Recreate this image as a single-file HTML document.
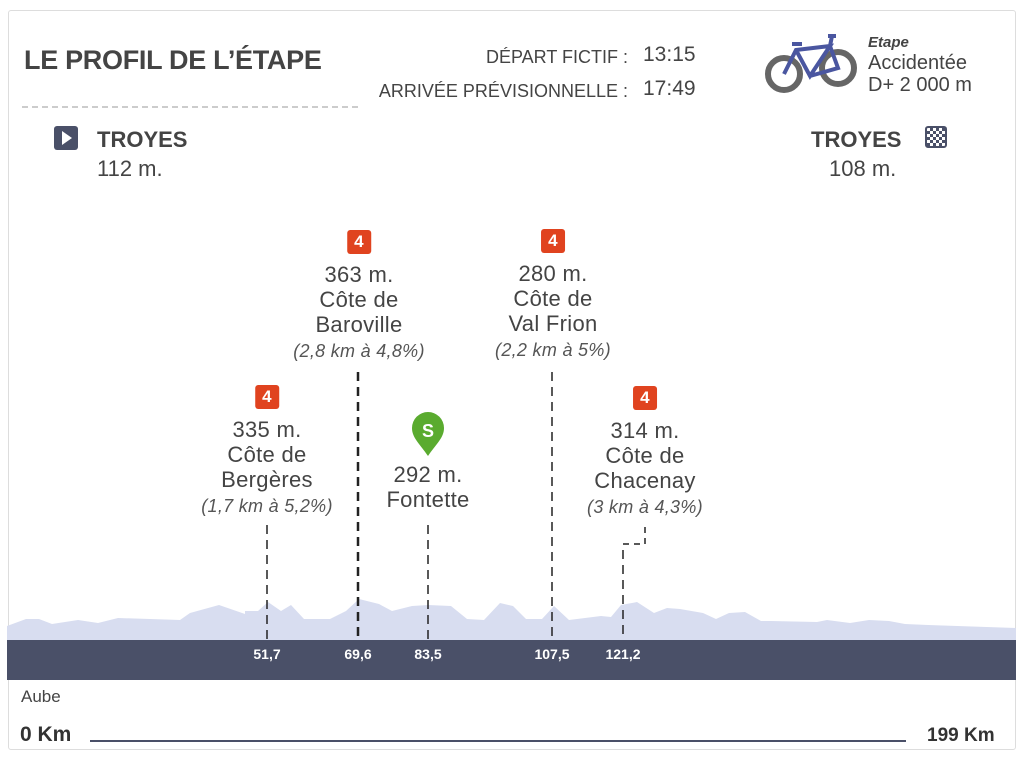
<!DOCTYPE html>
<html><head><meta charset="utf-8"><style>
*{margin:0;padding:0;box-sizing:border-box}
body{width:1024px;height:767px;background:#fff;font-family:"Liberation Sans",sans-serif;color:#444;position:relative;overflow:hidden}
.a{position:absolute;white-space:nowrap}
.c{position:absolute;text-align:center;transform:translateX(-50%);font-size:22px;line-height:25px;color:#444;white-space:nowrap;letter-spacing:0.3px}
.c i{font-size:18px;color:#555}
.b{display:inline-block;width:24px;height:24px;background:#e0431f;color:#fff;font-weight:bold;font-size:17px;line-height:24px;border-radius:3px;margin-bottom:8px}
</style></head><body>
<div class="a" style="left:8px;top:10px;width:1008px;height:740px;border:1px solid #ddd;border-radius:3px"></div>
<div class="a" style="left:24px;top:45px;font-size:27px;font-weight:bold;color:#444;letter-spacing:-0.3px">LE PROFIL DE L’ÉTAPE</div>
<div class="a" style="left:22px;top:106px;width:336px;border-top:2px dashed #ccc"></div>
<div class="a" style="right:396px;top:40px;font-size:18px;text-align:right;line-height:34px;color:#444">DÉPART FICTIF :<br>ARRIVÉE PRÉVISIONNELLE :</div>
<div class="a" style="left:643px;top:38px;font-size:21px;line-height:34px;color:#444">13:15<br>17:49</div>
<svg class="a" style="left:764px;top:32px" width="96" height="64" viewBox="0 0 96 64">
<circle cx="20" cy="42" r="16" fill="none" stroke="#666" stroke-width="6"/>
<circle cx="74" cy="36" r="16" fill="none" stroke="#666" stroke-width="6"/>
<path d="M20 42 L32 18 L66 14 L46 44 L32 18 M46 44 L74 36 L66 14 L68 4 M28 12 L38 12 M64 4 L72 4" stroke="#4a56a0" stroke-width="4" fill="none"/>
</svg>
<div class="a" style="left:868px;top:34px;font-size:15px;font-weight:bold;font-style:italic;color:#444">Etape</div>
<div class="a" style="left:868px;top:52px;font-size:20px;line-height:22px;color:#444">Accidentée<br>D+ 2 000 m</div>
<div class="a" style="left:54px;top:126px;width:24px;height:24px;background:#4a5068;border-radius:3px"></div>
<div class="a" style="left:62px;top:131px;width:0;height:0;border-left:10px solid #fff;border-top:7px solid transparent;border-bottom:7px solid transparent"></div>
<div class="a" style="left:97px;top:127px;font-size:22px;font-weight:bold;color:#444">TROYES</div>
<div class="a" style="left:97px;top:156px;font-size:22px;color:#444">112 m.</div>
<div class="a" style="left:811px;top:127px;font-size:22px;font-weight:bold;color:#444">TROYES</div>
<div class="a" style="left:925px;top:126px;width:22px;height:22px;border-radius:3px;background:repeating-conic-gradient(#4a5068 0 25%,#fff 0 50%) 0 0/6px 6px;border:2px solid #4a5068"></div>
<div class="a" style="left:829px;top:156px;font-size:22px;color:#444">108 m.</div>

<div class="c" style="left:359px;top:227px"><span class="b">4</span><br>363 m.<br>Côte de<br>Baroville<br><i>(2,8 km à 4,8%)</i></div>
<div class="c" style="left:553px;top:226px"><span class="b">4</span><br>280 m.<br>Côte de<br>Val Frion<br><i>(2,2 km à 5%)</i></div>
<div class="c" style="left:267px;top:382px"><span class="b">4</span><br>335 m.<br>Côte de<br>Bergères<br><i>(1,7 km à 5,2%)</i></div>
<div class="c" style="left:645px;top:383px"><span class="b">4</span><br>314 m.<br>Côte de<br>Chacenay<br><i>(3 km à 4,3%)</i></div>
<div class="c" style="left:428px;top:462px">292 m.<br>Fontette</div>
<svg class="a" style="left:410px;top:410px" width="36" height="48" viewBox="0 0 36 48"><path d="M18 46 C10 34 2 28 2 18 A16 16 0 0 1 34 18 C34 28 26 34 18 46Z" fill="#5aab2f"/><text x="18" y="27" text-anchor="middle" font-family="Liberation Sans" font-weight="bold" font-size="18" fill="#fff">S</text></svg>

<svg class="a" style="left:0;top:0" width="1024" height="767">
<path d="M7 640 L7 626 L26 619 L39 619 L52 624 L78 620 L98 623 L118 618 L150 619 L180 620 L190 613 L219 605 L245 614 L245 611 L258 611 L268 602 L281 611 L291 605 L304 619 L330 619 L346 611 L359 599 L379 604 L392 611 L412 606 L428 605 L451 606 L467 619 L484 620 L500 603 L513 606 L526 619 L542 619 L554 606 L569 620 L601 616 L611 617 L621 605 L637 602 L654 613 L667 608 L680 609 L703 613 L716 619 L729 613 L745 612 L761 621 L771 621 L817 622 L827 620 L850 623 L869 620 L889 621 L905 624 L928 625 L1016 628 L1016 640Z" fill="#d8ddf0"/>
<rect x="7" y="640" width="1009" height="40" fill="#4a5068"/>
<g stroke="#222" stroke-dasharray="9,6" fill="none">
<line x1="267" y1="525" x2="267" y2="640" stroke-width="1.5"/>
<line x1="358" y1="372" x2="358" y2="640" stroke-width="2.5"/>
<line x1="428" y1="525" x2="428" y2="640" stroke-width="1.5"/>
<line x1="552" y1="372" x2="552" y2="640" stroke-width="1.5"/>
<line x1="623" y1="550" x2="623" y2="640" stroke-width="1.5"/>
</g>
<path d="M645 527 V544 H623" stroke="#222" stroke-width="1.5" stroke-dasharray="6,5" fill="none"/>
<g font-family="Liberation Sans" font-weight="bold" font-size="14" fill="#fff" text-anchor="middle">
<text x="267" y="659">51,7</text><text x="358" y="659">69,6</text><text x="428" y="659">83,5</text><text x="552" y="659">107,5</text><text x="623" y="659">121,2</text>
</g>
<line x1="90" y1="741" x2="906" y2="741" stroke="#4a5068" stroke-width="2"/>
</svg>
<div class="a" style="left:21px;top:687px;font-size:17px;color:#444">Aube</div>
<div class="a" style="left:20px;top:723px;font-size:21px;font-weight:bold;color:#333">0 Km</div>
<div class="a" style="left:927px;top:725px;font-size:19px;font-weight:bold;color:#333">199 Km</div>
</body></html>
